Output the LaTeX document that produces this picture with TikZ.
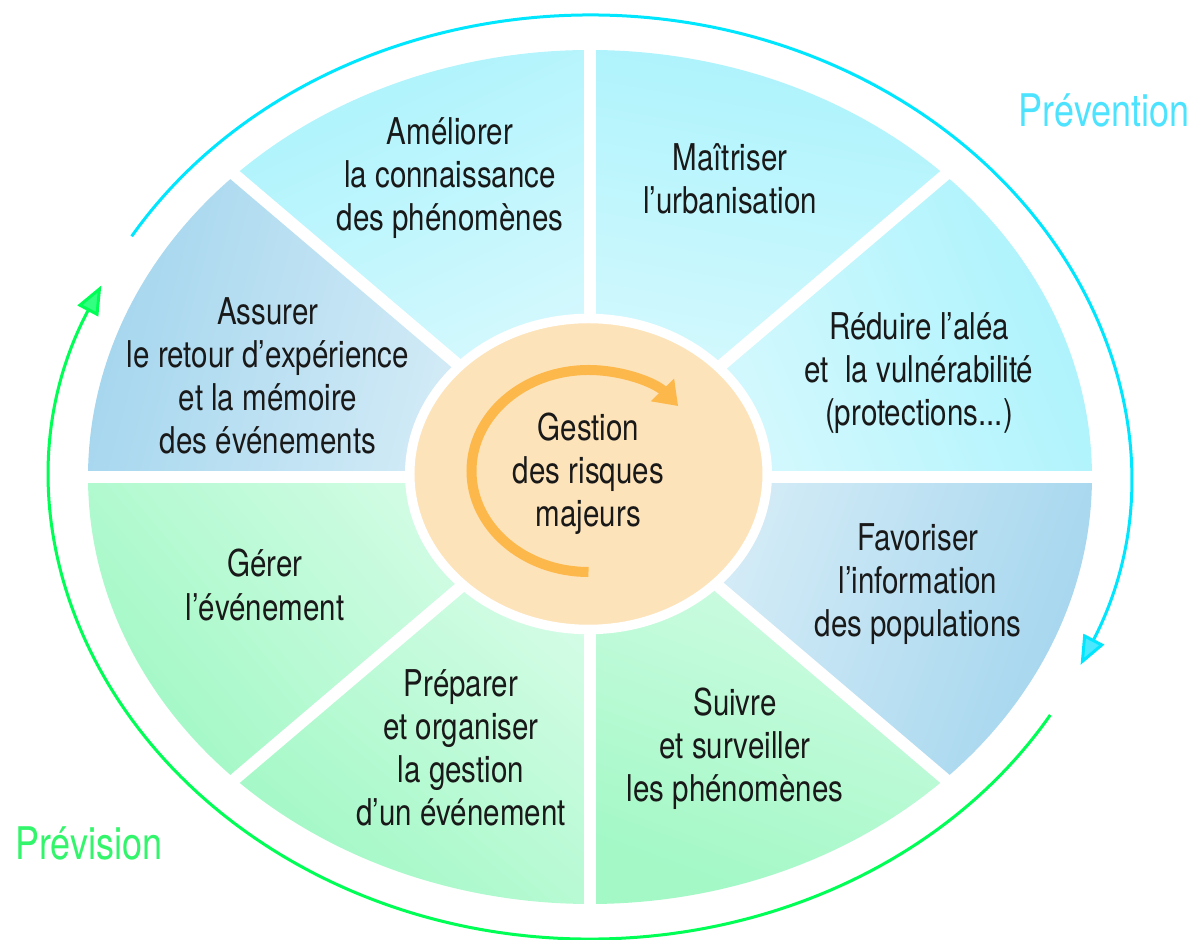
\documentclass[tikz,border=0pt]{standalone}
\usepackage{fontspec}
\setmainfont[FakeStretch=0.8]{TeX Gyre Heros}
\usetikzlibrary{arrows.meta,shapes.geometric}

\definecolor{cianFuera}{HTML}{ADF3FC}
\definecolor{cianDentro}{HTML}{DDFAFE}
\definecolor{azulFuera}{HTML}{A5D6EE}
\definecolor{azulDentro}{HTML}{E0F1F9}
\definecolor{verdeFuera}{HTML}{A3F8C6}
\definecolor{verdeDentro}{HTML}{DAFDEA}
\definecolor{naranjaDisco}{HTML}{FDE3B9}
\definecolor{naranjaFlecha}{HTML}{FDB84C}
\definecolor{cianFlecha}{HTML}{00E6FF}
\definecolor{cianPunta}{HTML}{4CE8FF}
\definecolor{verdeFlecha}{HTML}{00FF55}
\definecolor{verdePunta}{HTML}{33FF80}
\definecolor{cianTexto}{HTML}{4DE3FF}
\definecolor{verdeTexto}{HTML}{33F56B}

\tikzset{
  sectorCian/.style={top color=cianFuera, bottom color=cianDentro},
  sectorAzul/.style={top color=azulFuera, bottom color=azulDentro},
  sectorVerde/.style={top color=verdeFuera, bottom color=verdeDentro},
  separador/.style={white, line width=0.24cm},
  texto/.style={align=center, text=black!90, font=\fontsize{21}{24.5}\selectfont},
  etiqueta/.style={font=\fontsize{25.6}{30}\selectfont},
  flechaCian/.style={cianFlecha, line width=0.06cm, -{Triangle[length=0.58cm, width=0.46cm, fill=cianPunta]}},
  flechaVerde/.style={verdeFlecha, line width=0.06cm, -{Triangle[length=0.58cm, width=0.46cm, fill=verdePunta]}},
  flechaCentro/.style={naranjaFlecha, line width=0.2cm, -{Triangle[length=0.45cm, width=0.62cm]}},
}

\begin{document}
\begin{tikzpicture}
    % Marco fijo de la figura
    \useasboundingbox (-11.8,-9.26) rectangle (12.06,9.54);

    % Sectores de la elipse
    \begin{scope}[x=10.04cm, y=8.54cm]
      \shade[sectorCian, shading angle=-67.5] (0,0) -- (0:1) arc[start angle=0, end angle=45, radius=1] -- cycle;
      \shade[sectorCian, shading angle=-10] (0,0) -- (45:1) arc[start angle=45, end angle=90, radius=1] -- cycle;
      \shade[sectorCian, shading angle=25] (0,0) -- (90:1) arc[start angle=90, end angle=135, radius=1] -- cycle;
      \shade[sectorAzul, shading angle=75] (0,0) -- (135:1) arc[start angle=135, end angle=180, radius=1] -- cycle;
      \shade[sectorVerde, shading angle=130] (0,0) -- (180:1) arc[start angle=180, end angle=225, radius=1] -- cycle;
      \shade[sectorVerde, shading angle=140] (0,0) -- (225:1) arc[start angle=225, end angle=270, radius=1] -- cycle;
      \shade[sectorVerde, shading angle=160] (0,0) -- (270:1) arc[start angle=270, end angle=315, radius=1] -- cycle;
      \shade[sectorAzul, shading angle=-110] (0,0) -- (315:1) arc[start angle=315, end angle=360, radius=1] -- cycle;

      % Separadores
      \foreach \a in {0,45,...,315}
        \draw[separador] (0,0) -- (\a:1.05);
    \end{scope}

    % Centro
    \node[ellipse, fill=naranjaDisco, draw=white, line width=0.19cm,
          minimum width=7.15cm, minimum height=6.22cm, texto] (centre) at (-0.03,0.06)
          {Gestion\\des risques\\majeurs};
    \draw[flechaCentro] ([shift={(0,-1.96)}]centre.center)
        arc[start angle=-90, end angle=-320, x radius=2.34cm, y radius=2.02cm];

    % Textos de los sectores
    \node[texto] (ameliorer) at (-2.8,5.98) {Améliorer\\la connaissance\\des phénomènes};
    \node[texto] (maitriser) at (2.8,5.97) {Maîtriser\\l'urbanisation};
    \node[texto] (reduire) at (6.58,2.08) {Réduire l'aléa\\et~~la vulnérabilité\\(protections...)};
    \node[texto] (favoriser) at (6.56,-2.14) {Favoriser\\l'information\\des populations};
    \node[texto] (suivre) at (2.9,-5.44) {Suivre\\et surveiller\\les phénomènes};
    \node[texto] (preparer) at (-2.58,-5.42) {Préparer\\et organiser\\la gestion\\d'un événement};
    \node[texto] (gerer) at (-6.5,-2.16) {Gérer\\l'événement};
    \node[texto] (assurer) at (-6.44,2.02) {Assurer\\le retour d'expérience\\et la mémoire\\des événements};

    % Flechas exteriores
    \draw[flechaCian] (148.6:10.74cm and 9.24cm)
        arc[start angle=148.6, end angle=-24, x radius=10.74cm, y radius=9.24cm];
    \draw[flechaVerde] (-31:10.74cm and 9.24cm)
        arc[start angle=-31, end angle=-204.5, x radius=10.74cm, y radius=9.24cm];

    \node[etiqueta, text=cianTexto] (prevention) at (10.28,7.34) {Prévention};
    \node[etiqueta, text=verdeTexto] (prevision) at (-10.02,-7.32) {Prévision};
\end{tikzpicture}
\end{document}
